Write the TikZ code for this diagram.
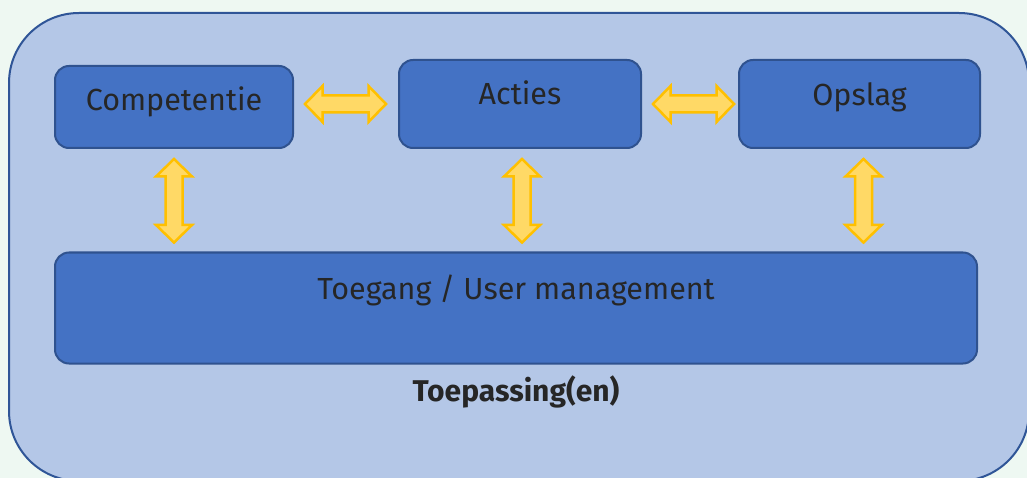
\documentclass[tikz,border=0pt]{standalone}
\usepackage{fontspec}
\setmainfont{Fira Sans}
\usetikzlibrary{positioning,calc}
\definecolor{achter}{HTML}{EEF8F2}
\definecolor{buitenvul}{HTML}{B4C7E7}
\definecolor{buitenrand}{HTML}{2F5597}
\definecolor{blokvul}{HTML}{4472C4}
\definecolor{blokrand}{HTML}{2F528F}
\definecolor{pijlvul}{HTML}{FFD966}
\definecolor{pijlrand}{HTML}{FFC000}
\definecolor{tekst}{HTML}{262626}

\begin{document}
\begin{tikzpicture}[
    x=1pt, y=-1pt,
    blok/.style={rectangle, rounded corners=14pt, draw=blokrand, fill=blokvul,
        line width=2pt, inner sep=0pt, text height=22pt, text=tekst,
        font=\fontsize{30.5}{36}\selectfont},
    buiten/.style={draw=buitenrand, fill=buitenvul, line width=2pt,
        rounded corners=70pt},
    naam/.style={inner sep=0pt, text height=22pt, text depth=0pt, text=tekst,
        font=\fontsize{30}{36}\selectfont\bfseries},
    dikpijl/.style={draw=pijlrand, fill=pijlvul, line width=2.5pt,
        to path={let \p1=(\tikztostart), \p2=(\tikztotarget),
            \n1={atan2(\y2-\y1,\x2-\x1)} in
            -- ($(\p1)+(\n1:17.5pt)+(\n1+90:18pt)$)
            -- ($(\p1)+(\n1:17.5pt)+(\n1+90:8.5pt)$)
            -- ($(\p2)+(\n1+180:17.5pt)+(\n1+90:8.5pt)$)
            -- ($(\p2)+(\n1+180:17.5pt)+(\n1+90:18pt)$)
            -- (\p2)
            -- ($(\p2)+(\n1+180:17.5pt)+(\n1-90:18pt)$)
            -- ($(\p2)+(\n1+180:17.5pt)+(\n1-90:8.5pt)$)
            -- ($(\p1)+(\n1:17.5pt)+(\n1-90:8.5pt)$)
            -- ($(\p1)+(\n1:17.5pt)+(\n1-90:18pt)$)
            -- cycle}}
]
    \fill[achter] (0,0) rectangle (1027,478);
    \useasboundingbox (0,0) rectangle (1027,478);
    \draw[buiten] (9,13) rectangle (1029,481);

    \node[blok, minimum width=238pt, minimum height=82pt, text depth=14pt]
        (comp) at (174,107) {Competentie};
    \node[blok, minimum width=242pt, minimum height=88pt, text depth=20pt,
        right=104pt of comp, yshift=3pt] (acties) {Acties};
    \node[blok, minimum width=241pt, minimum height=88pt, text depth=18pt,
        right=96pt of acties] (opslag) {Opslag};
    \node[blok, minimum width=922pt, minimum height=111pt, text depth=40pt,
        below right=102.5pt and 0pt of comp.south west] (toegang)
        {Toegang / User management};
    \node[naam, below=15pt of toegang] (toep) {Toepassing(en)};

    \draw[dikpijl] ($(comp.east |- acties.west)+(11,0)$) to ($(acties.west)+(-12,0)$);
    \draw[dikpijl] ($(acties.east)+(11,0)$) to ($(opslag.west)+(-4,0)$);
    \draw[dikpijl] ($(comp.south)+(0,10)$) to ($(comp.south |- toegang.north)+(0,-9)$);
    \draw[dikpijl] ($(acties.south)+(2,10)$) to ($(acties.south |- toegang.north)+(2,-9)$);
    \draw[dikpijl] ($(opslag.south)+(4,10)$) to ($(opslag.south |- toegang.north)+(4,-9)$);
\end{tikzpicture}
\end{document}
